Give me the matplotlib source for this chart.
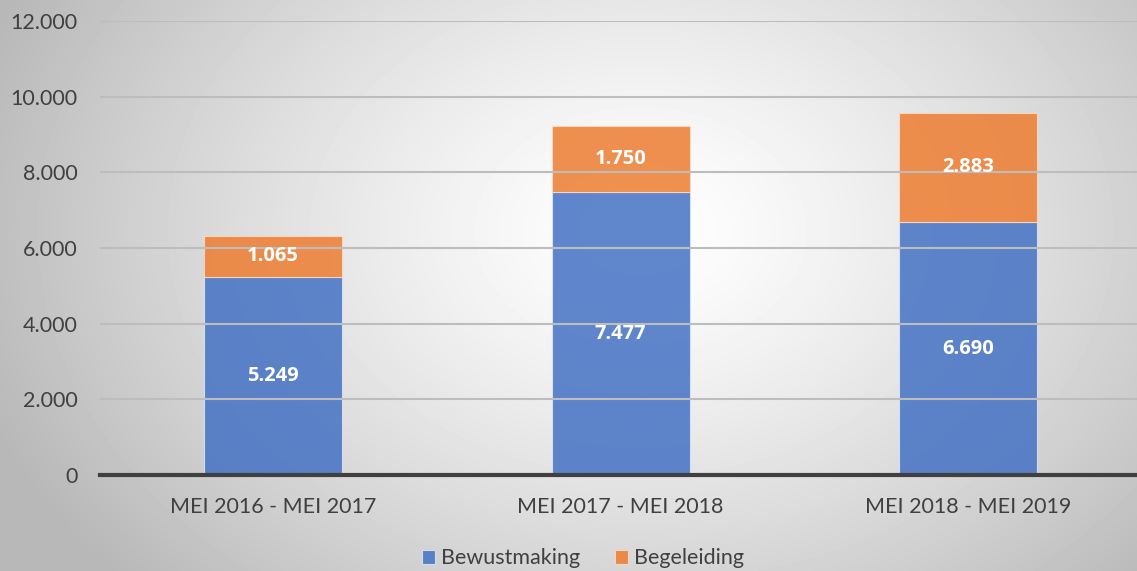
import numpy as np
import matplotlib
matplotlib.use("Agg")
import matplotlib.pyplot as plt

# data
periods = ["MEI 2016 - MEI 2017", "MEI 2017 - MEI 2018", "MEI 2018 - MEI 2019"]
bewustmaking = [5249, 7477, 6690]
begeleiding = [1065, 1750, 2883]
yticks = [0, 2000, 4000, 6000, 8000, 10000, 12000]

plt.rcParams['font.family'] = ['Lato', 'DejaVu Sans']


def fmt(v):
    return "{:,}".format(v).replace(",", ".")


fig = plt.figure(figsize=(11.37, 5.71), dpi=100)

# radial gradient background (white centre, grey edges)
bg = fig.add_axes([0, 0, 1, 1], zorder=0)
yy, xx = np.mgrid[0:571, 0:1137]
d = np.sqrt(((xx - 640) / 700.0) ** 2 + ((yy - 230) / 520.0) ** 2)
shade = np.clip(1.0 - 0.28 * d ** 1.3, 0.72, 1.0)
bg.imshow(shade, cmap="gray", vmin=0, vmax=1, aspect="auto")
bg.axis("off")

ax = fig.add_axes([0.088, 0.168, 0.912, 0.795], zorder=1)
ax.patch.set_alpha(0)

x = np.arange(len(periods))
w = 0.397
b1 = ax.bar(x, bewustmaking, w, color="#4472C4", alpha=0.85, edgecolor="#DDE6F4",
            linewidth=0.8, label="Bewustmaking", zorder=2)
b2 = ax.bar(x, begeleiding, w, bottom=bewustmaking, color="#ED7D31", alpha=0.85,
            edgecolor="#F8DCC8", linewidth=0.8, label="Begeleiding", zorder=2)

lab_font = dict(family=['Open Sans', 'DejaVu Sans'], fontsize=14.5, fontweight="bold",
                color="white", ha="center", va="center", zorder=4)
for xi, v in zip(x, bewustmaking):
    ax.text(xi, v / 2, fmt(v), **lab_font)
for xi, b, v in zip(x, bewustmaking, begeleiding):
    ax.text(xi, b + v / 2, fmt(v), **lab_font)

ax.set_ylim(0, 12000)
ax.set_xlim(-0.498, 2.486)
ax.set_yticks(yticks)
ax.set_yticklabels([fmt(t) for t in yticks], fontsize=15.5, color="#404040")
ax.set_xticks(x)
ax.set_xticklabels(periods, fontsize=15.5, color="#404040")
ax.tick_params(axis="both", length=0)
ax.tick_params(axis="x", pad=16)
ax.tick_params(axis="y", pad=16)
ax.yaxis.grid(True, color="#BDBDBD", linewidth=1.5, zorder=3)
ax.set_axisbelow(False)
for s in ["top", "right", "left"]:
    ax.spines[s].set_visible(False)
ax.spines["bottom"].set_color("#404040")
ax.spines["bottom"].set_linewidth(3)
ax.spines["bottom"].set_zorder(5)

lgd = fig.legend(handles=[b1, b2], loc="center", bbox_to_anchor=(0.513, 0.022), ncol=2,
                 frameon=False, fontsize=15.5, handlelength=0.6, handleheight=0.6,
                 handletextpad=0.3, columnspacing=1.6)
for t in lgd.get_texts():
    t.set_color("#404040")

fig.savefig("out.png", dpi=100)
